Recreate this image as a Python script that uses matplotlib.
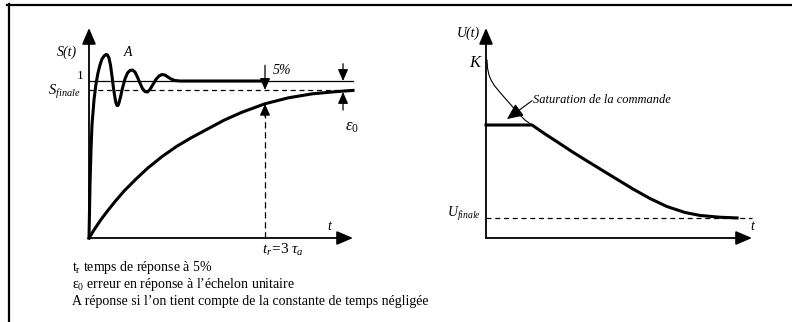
import matplotlib
matplotlib.use('Agg')
from matplotlib import pyplot as plt
from matplotlib.lines import Line2D

plt.rcParams['font.family'] = 'Liberation Serif'
plt.rcParams['mathtext.fontset'] = 'custom'
plt.rcParams['mathtext.rm'] = 'Liberation Serif'
plt.rcParams['mathtext.it'] = 'Liberation Serif:italic'

# reponse indicielle (t en tau_a)
t_premier = [0, 0.1, 0.2, 0.3, 0.45, 0.6, 0.8, 1.0, 1.25, 1.5, 1.75, 2.0,
             2.3, 2.6, 3.0, 3.4, 3.8, 4.2, 4.5]
s_premier = [0, 0.06, 0.115, 0.165, 0.235, 0.30, 0.375, 0.445, 0.52, 0.585,
             0.64, 0.69, 0.75, 0.80, 0.855, 0.893, 0.918, 0.932, 0.94]

# reponse A (constante de temps negligee prise en compte)
t_A = [0, 0.017, 0.034, 0.051, 0.085, 0.119, 0.153, 0.187, 0.221, 0.256,
       0.290, 0.315, 0.341, 0.366, 0.392, 0.417, 0.443, 0.460, 0.477, 0.494,
       0.511, 0.537, 0.571, 0.613, 0.656, 0.698, 0.741, 0.784, 0.826, 0.869,
       0.911, 0.954, 0.997, 1.039, 1.090, 1.141, 1.193, 1.244, 1.295, 1.346,
       1.397, 1.465, 1.550, 3.0]
s_A = [0, 0.338, 0.561, 0.720, 0.879, 0.981, 1.051, 1.102, 1.140, 1.159,
       1.169, 1.166, 1.146, 1.102, 1.032, 0.955, 0.892, 0.860, 0.844, 0.844,
       0.860, 0.898, 0.955, 1.013, 1.051, 1.067, 1.070, 1.057, 1.025, 0.987,
       0.952, 0.933, 0.930, 0.946, 0.978, 1.010, 1.032, 1.041, 1.038, 1.025,
       1.013, 1.003, 1.0, 1.0]

s_consigne = 1.0
s_finale = 0.943
s_tr = 0.855
t_r = 3.0
t_max = 4.5

# commande sans saturation
t_libre = [0.038, 0.056, 0.113, 0.188, 0.301, 0.451, 0.677, 0.940, 1.203, 1.466, 1.729]
u_libre = [1.011, 0.966, 0.926, 0.898, 0.869, 0.841, 0.801, 0.756, 0.710, 0.670, 0.642]
# commande saturee
t_sat = [0, 1.73, 2.22, 2.71, 3.23, 3.80, 4.66, 5.53, 6.17, 6.80, 7.48, 8.05, 8.80, 9.44]
u_sat = [0.642, 0.642, 0.591, 0.543, 0.491, 0.4375, 0.358, 0.278, 0.224, 0.179,
         0.145, 0.128, 0.118, 0.114]
u_finale = 0.114
K = 1.0

W, H = 792, 322
fig = plt.figure(figsize=(W / 100, H / 100), dpi=100)

# cadre (haut et gauche)
fig.add_artist(Line2D([7 / W, 1], [1 - 4.5 / H, 1 - 4.5 / H], color='k', lw=1.6))
fig.add_artist(Line2D([8.5 / W, 8.5 / W], [0, 1 - 4 / H], color='k', lw=1.6))

ax1 = fig.add_axes([89 / W, (H - 238) / H, 264 / W, 210 / H])
ax1.set_xlim(0, t_max)
ax1.set_ylim(0, 210 / 157)
ax1.axis('off')

ax2 = fig.add_axes([486 / W, (H - 238) / H, 266 / W, 210 / H])
ax2.set_xlim(0, 10)
ax2.set_ylim(0, 210 / 176)
ax2.axis('off')

axe = dict(arrowstyle='-|>,head_length=0.7,head_width=0.3', color='k', lw=1.3,
           mutation_scale=14, shrinkA=0, shrinkB=0)
petite = dict(arrowstyle='-|>,head_length=0.5,head_width=0.22', color='k', lw=0.9,
              mutation_scale=14, shrinkA=0, shrinkB=0)

for ax in (ax1, ax2):
    x1, x2 = ax.get_xlim()
    y1, y2 = ax.get_ylim()
    ax.annotate('', xy=(x2, 0), xytext=(0, 0), arrowprops=axe, annotation_clip=False)
    ax.annotate('', xy=(0, y2), xytext=(0, 0), arrowprops=axe, annotation_clip=False)

# --- S(t) ---
ax1.plot([0, t_max], [s_consigne, s_consigne], color='k', lw=0.9, clip_on=False)
ax1.plot([0, t_max], [s_finale, s_finale], color='k', lw=0.9, ls=(0, (4, 3)), clip_on=False)
ax1.plot(t_A, s_A, color='k', lw=2.2, clip_on=False, solid_joinstyle='round')
ax1.plot(t_premier, s_premier, color='k', lw=2.2, clip_on=False, solid_joinstyle='round')

# temps de reponse
ax1.plot([t_r, t_r], [0, s_tr - 0.06], color='k', lw=0.9, ls=(0, (5, 3)))
ax1.annotate('', xy=(t_r, s_tr), xytext=(t_r, s_tr - 0.08), arrowprops=petite)
ax1.annotate('', xy=(t_r, s_finale), xytext=(t_r, 1.10), arrowprops=petite)
ax1.text(3.13, 1.07, '5%', fontsize=10, style='italic', ha='left', va='center')

# erreur statique
t_e = 4.33
ax1.annotate('', xy=(t_e, s_consigne), xytext=(t_e, 1.11), arrowprops=petite,
             annotation_clip=False)
ax1.annotate('', xy=(t_e, 0.93), xytext=(t_e, 0.815), arrowprops=petite,
             annotation_clip=False)
ax1.text(4.48, 0.71, r'$\varepsilon_0$', fontsize=12, ha='center', va='center')

ax1.text(-0.37, 1.18, 'S(t)', fontsize=10, style='italic', ha='center', va='center')
ax1.text(0.66, 1.18, 'A', fontsize=10, style='italic', ha='center', va='center')
ax1.text(-0.10, 1.035, '1', fontsize=9.5, ha='right', va='center')
ax1.text(-0.14, 0.93, r'$S_{finale}$', fontsize=10.5, ha='right', va='center')
ax1.text(4.1, 0.076, 't', fontsize=10, style='italic', ha='center', va='center')
ax1.text(3.3, -0.078, r'$t_r\!=\!3\ \tau_a$', fontsize=11, ha='center', va='center')

legende = [r'$\mathrm{t}_{\mathrm{r}}$ temps de réponse à 5%',
           r'$\mathrm{\varepsilon}_{0}$ erreur en réponse à l’échelon unitaire',
           'A réponse si l’on tient compte de la constante de temps négligée']
for i, ligne in enumerate(legende):
    fig.text(72 / W, 1 - (267 + 17.5 * i) / H, ligne, fontsize=10, ha='left', va='center')

# --- U(t) ---
ax2.plot([0, 10], [u_finale, u_finale], color='k', lw=0.9, ls=(0, (4, 3)), clip_on=False)
ax2.plot(t_libre, u_libre, color='k', lw=0.8, clip_on=False)
ax2.plot(t_sat, u_sat, color='k', lw=2.2, clip_on=False, solid_joinstyle='round')
ax2.annotate('', xy=(0.79, 0.676), xytext=(1.73, 0.78),
             arrowprops=dict(arrowstyle='-|>,head_length=0.7,head_width=0.32', color='k',
                             lw=0.8, mutation_scale=14, shrinkA=0, shrinkB=0))
ax2.text(1.77, 0.784, 'Saturation de la commande', fontsize=9, style='italic',
         ha='left', va='center')

ax2.text(-0.68, 1.165, 'U(t)', fontsize=10, style='italic', ha='center', va='center')
ax2.text(-0.41, K - 0.006, 'K', fontsize=12, style='italic', ha='center', va='center')
ax2.text(-0.19, u_finale + 0.022, r'$U_{finale}$', fontsize=10, ha='right', va='center')
ax2.text(10, 0.068, 't', fontsize=10, style='italic', ha='center', va='center')

fig.savefig('out.png', dpi=100)
